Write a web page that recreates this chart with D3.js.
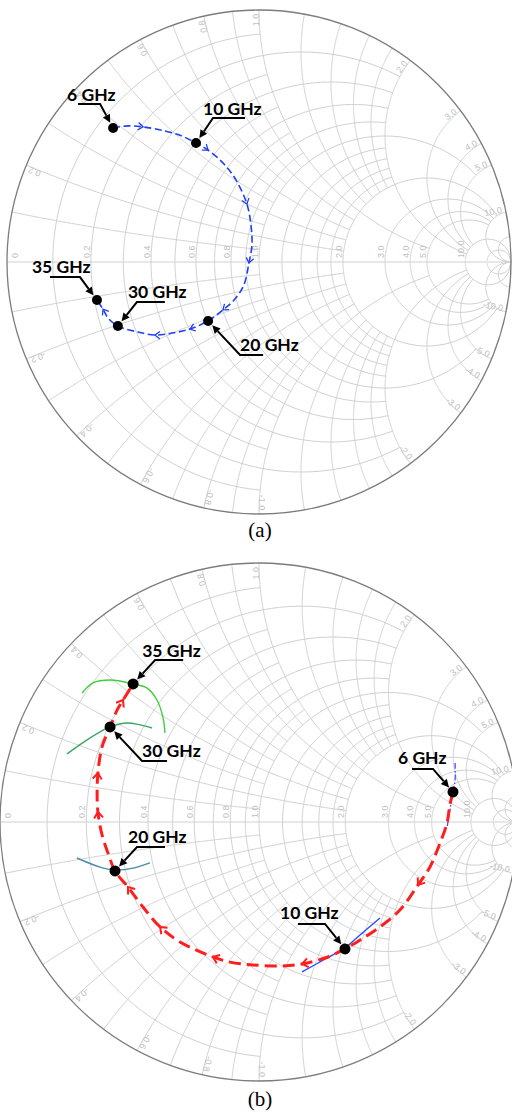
<!DOCTYPE html>
<html>
<head>
<meta charset="utf-8">
<script src="https://cdn.jsdelivr.net/npm/d3@7"></script>
<style>
  html, body { margin: 0; padding: 0; background: #fff; }
  svg { display: block; }
</style>
</head>
<body>
<svg id="chart" width="512" height="1113"></svg>
<script>
// ---- Smith chart grid -------------------------------------------------------
// constant-resistance circles and the |reactance| where each one stops
const resistanceValues = [0.1, 0.2, 0.3, 0.4, 0.5, 0.6, 0.7, 0.8, 0.9, 1.0, 1.2, 1.4, 1.6, 1.8, 2.0, 3.0, 4.0, 5.0, 10.0, 20.0];
const resistanceReach  = [1, 2, 1, 2, 1, 2, 1, 2, 1, 5, 2, 2, 2, 2, 10, 10, 10, 10, Infinity, Infinity];
// constant-reactance arcs and the resistance where each one stops
const reactanceValues  = [0.1, 0.2, 0.3, 0.4, 0.5, 0.6, 0.7, 0.8, 0.9, 1.0, 1.2, 1.4, 1.6, 1.8, 2.0, 3.0, 4.0, 5.0, 10.0, 20.0];
const reactanceReach   = [1, 2, 1, 2, 1, 2, 1, 2, 1, 5, 2, 2, 2, 2, 10, 10, 10, 10, Infinity, Infinity];
// labelled grid values
const axisTicks = [0, 0.2, 0.4, 0.6, 0.8, 1.0, 2.0, 3.0, 4.0, 5.0, 10.0];
const rimTicks  = [0.2, 0.4, 0.6, 0.8, 1.0, 2.0, 3.0, 4.0, 5.0, 10.0];

// ---- (a) reflection coefficient, 6-35 GHz (real, imaginary) ----------------
const traceA_re = [-0.579,-0.520,-0.460,-0.373,-0.306,-0.250,-0.202,-0.139,-0.091,-0.048,-0.032,-0.028,-0.040,-0.060,-0.099,-0.143,-0.202,-0.274,-0.345,-0.413,-0.480,-0.560,-0.599,-0.619,-0.643];
const traceA_im = [ 0.532, 0.540, 0.536, 0.520, 0.500, 0.472, 0.444, 0.389, 0.325, 0.230, 0.147, 0.067,-0.004,-0.091,-0.151,-0.190,-0.234,-0.266,-0.282,-0.290,-0.278,-0.254,-0.222,-0.187,-0.151];
const traceA_arrows = [2, 6, 9, 12, 15, 17, 19, 23];
const markerA_freq  = ["6 GHz", "10 GHz", "20 GHz", "30 GHz", "35 GHz"];
const markerA_index = [0, 5, 16, 21, 24];

// ---- (b) reflection coefficient, 6-35 GHz ----------------------------------
const traceB_re = [0.749,0.737,0.726,0.699,0.660,0.614,0.544,0.467,0.390,0.332,0.255,0.166,0.093,-0.023,-0.112,-0.178,-0.305,-0.382,-0.448,-0.506,-0.556,-0.583,-0.606,-0.622,-0.625,-0.622,-0.606,-0.575,-0.548,-0.525,-0.486];
const traceB_im = [0.116,0.066,-0.004,-0.081,-0.174,-0.243,-0.340,-0.405,-0.456,-0.490,-0.525,-0.548,-0.556,-0.552,-0.541,-0.521,-0.463,-0.405,-0.328,-0.251,-0.189,-0.120,-0.050,0.039,0.112,0.189,0.290,0.367,0.432,0.471,0.533];
const traceB_arrows = [5, 11, 15, 17, 19, 23, 25, 29];
const markerB_freq  = ["6 GHz", "10 GHz", "20 GHz", "30 GHz", "35 GHz"];
const markerB_index = [0, 9, 20, 27, 30];

// short companion curves through the (b) markers
const near6_re  = [0.757, 0.757, 0.749, 0.737, 0.726];
const near6_im  = [0.228, 0.162, 0.116, 0.046, -0.023];
const near10_re = [0.467, 0.390, 0.332, 0.263, 0.166];
const near10_im = [-0.371, -0.436, -0.486, -0.525, -0.579];
const near20_re = [-0.703, -0.614, -0.556, -0.486, -0.421];
const near20_im = [-0.139, -0.174, -0.185, -0.178, -0.158];
const near30_re = [-0.741, -0.664, -0.602, -0.575, -0.510, -0.459, -0.413];
const near30_im = [0.263, 0.317, 0.355, 0.367, 0.382, 0.375, 0.363];
const near35_re = [-0.683, -0.641, -0.575, -0.486, -0.432, -0.394, -0.371, -0.363];
const near35_im = [0.498, 0.537, 0.548, 0.533, 0.517, 0.471, 0.405, 0.344];

// ---- drawing ----------------------------------------------------------------
const svg = d3.select("#chart");
const GRID = "#d0d0d0", LABEL = "#c0c0c0";

function gamma(r, x) {
  const d = (r + 1) * (r + 1) + x * x;
  return [(r * r - 1 + x * x) / d, (2 * x) / d];
}

function makePanel(cx, cy, R) {
  const sx = d3.scaleLinear().domain([-1, 1]).range([cx - R, cx + R]);
  const sy = d3.scaleLinear().domain([-1, 1]).range([cy + R, cy - R]);
  const g = svg.append("g");
  const line = d3.line().x(d => sx(d[0])).y(d => sy(d[1]));
  const grid = g.append("g").attr("fill", "none").attr("stroke", GRID).attr("stroke-width", 1);
  const N = 240;

  // resistance circles
  resistanceValues.forEach((r, i) => {
    const t0 = Math.atan(resistanceReach[i]);
    const pts = d3.range(N + 1).map(k => gamma(r, Math.tan(-t0 + 2 * t0 * k / N)));
    grid.append("path").attr("d", line(pts));
  });
  // reactance arcs, both signs
  reactanceValues.forEach((x, i) => {
    const t1 = Math.atan(reactanceReach[i]);
    [1, -1].forEach(s => {
      const pts = d3.range(N + 1).map(k => gamma(Math.tan(t1 * k / N), s * x));
      grid.append("path").attr("d", line(pts));
    });
  });
  // real axis
  grid.append("path").attr("d", line([[-1, 0], [1, 0]]));
  // outer rim
  g.append("circle").attr("cx", sx(0)).attr("cy", sy(0)).attr("r", sx(1) - sx(0))
    .attr("fill", "none").attr("stroke", "#7c7c7c").attr("stroke-width", 1.3);

  const fmt = v => v === 0 ? "0" : d3.format(".1f")(v);
  const lab = g.append("g").attr("fill", LABEL)
    .attr("font-family", "Liberation Sans, Arial, sans-serif").attr("font-size", 9);
  // resistance labels along the real axis
  axisTicks.forEach(r => {
    const px = r === 0 ? sx(-1) + 11 : sx((r - 1) / (r + 1)) - 1;
    lab.append("text").attr("transform", `translate(${px},${sy(0) - 4}) rotate(-90)`)
      .attr("text-anchor", "start").text(fmt(r));
  });
  // reactance labels round the rim
  rimTicks.forEach(x => {
    [1, -1].forEach(s => {
      const p = gamma(0, s * x);
      const th = Math.atan2(p[1], p[0]);
      const rr = 0.985;
      const px = sx(rr * Math.cos(th)), py = sy(rr * Math.sin(th));
      lab.append("text").attr("transform", `translate(${px},${py}) rotate(${-th * 180 / Math.PI})`)
        .attr("text-anchor", "end").text((s < 0 ? "-" : "") + fmt(x));
    });
  });
  return { g, sx, sy, line };
}

function chevron(P, pts, idx, color, size, width) {
  const a = pts[Math.max(idx - 1, 0)], b = pts[Math.min(idx + 1, pts.length - 1)];
  const ang = Math.atan2(P.sy(b[1]) - P.sy(a[1]), P.sx(b[0]) - P.sx(a[0])) * 180 / Math.PI;
  P.g.append("path")
    .attr("transform", `translate(${P.sx(pts[idx][0])},${P.sy(pts[idx][1])}) rotate(${ang})`)
    .attr("d", `M${-size},${-size * 0.75} L0,0 L${-size},${size * 0.75}`)
    .attr("fill", "none").attr("stroke", color).attr("stroke-width", width)
    .attr("stroke-linejoin", "miter");
}

function callout(P, pt, text, lay) {
  const mx = P.sx(pt[0]), my = P.sy(pt[1]);
  const ex = mx + lay.ex, ey = my + lay.ey;
  const dx = mx - ex, dy = my - ey, L = Math.hypot(dx, dy);
  const ux = dx / L, uy = dy / L;
  const tipX = mx - ux * 6, tipY = my - uy * 6;
  const baseX = tipX - ux * 8, baseY = tipY - uy * 8;
  const c = P.g.append("g");
  c.append("path")
    .attr("d", `M${mx + lay.ux},${ey} L${ex},${ey} L${baseX},${baseY}`)
    .attr("fill", "none").attr("stroke", "#000").attr("stroke-width", 2);
  c.append("path")
    .attr("d", `M${tipX},${tipY} L${baseX - uy * 4},${baseY + ux * 4} L${baseX + uy * 4},${baseY - ux * 4} Z`)
    .attr("fill", "#000");
  c.append("text").attr("x", mx + lay.tx).attr("y", my + lay.ty)
    .attr("font-family", "Lato, Liberation Sans, sans-serif").attr("font-weight", "bold")
    .attr("font-size", 17.5).attr("fill", "#000").text(text);
}

const zip = (re, im) => re.map((v, i) => [v, im[i]]);

// ---------- panel (a) ----------
const A = makePanel(259, 262, 252);
const ptsA = zip(traceA_re, traceA_im);
A.g.append("path").attr("d", A.line.curve(d3.curveCatmullRom)(ptsA))
  .attr("fill", "none").attr("stroke", "#2040f0").attr("stroke-width", 1.6)
  .attr("stroke-dasharray", "7,3.5");
traceA_arrows.forEach(i => chevron(A, ptsA, i, "#2040f0", 5, 1.3));
const layoutA = [
  { ex: -13, ey: -24, ux: -35, tx: -46, ty: -27 },
  { ex: 17, ey: -25, ux: 49, tx: 7, ty: -28 },
  { ex: 32, ey: 34, ux: 55, tx: 32, ty: 30 },
  { ex: 19, ey: -24, ux: 47, tx: 10, ty: -28 },
  { ex: -17, ey: -23, ux: -47, tx: -65, ty: -27 }
];
markerA_index.forEach((idx, k) => {
  A.g.append("circle").attr("cx", A.sx(ptsA[idx][0])).attr("cy", A.sy(ptsA[idx][1]))
    .attr("r", 5).attr("fill", "#000");
  callout(A, ptsA[idx], markerA_freq[k], layoutA[k]);
});

// ---------- panel (b) ----------
const B = makePanel(259, 822, 259);
const lineB = d3.line().x(d => B.sx(d[0])).y(d => B.sy(d[1])).curve(d3.curveCatmullRom);
B.g.append("path").attr("d", lineB(zip(near6_re, near6_im)))
  .attr("fill", "none").attr("stroke", "#3040ff").attr("stroke-width", 1.2).attr("stroke-dasharray", "6,2,1.5,2");
B.g.append("path").attr("d", lineB(zip(near10_re, near10_im)))
  .attr("fill", "none").attr("stroke", "#2a4cff").attr("stroke-width", 1.4);
B.g.append("path").attr("d", lineB(zip(near20_re, near20_im)))
  .attr("fill", "none").attr("stroke", "#4a8aaa").attr("stroke-width", 1.4);
B.g.append("path").attr("d", lineB(zip(near30_re, near30_im)))
  .attr("fill", "none").attr("stroke", "#38a860").attr("stroke-width", 1.4);
B.g.append("path").attr("d", lineB(zip(near35_re, near35_im)))
  .attr("fill", "none").attr("stroke", "#3ccf3c").attr("stroke-width", 1.4);
const ptsB = zip(traceB_re, traceB_im);
B.g.append("path").attr("d", lineB(ptsB))
  .attr("fill", "none").attr("stroke", "#ff1e1e").attr("stroke-width", 3)
  .attr("stroke-dasharray", "12,6");
traceB_arrows.forEach(i => chevron(B, ptsB, i, "#ff1e1e", 6, 2));
const layoutB = [
  { ex: -20, ey: -23, ux: -41, tx: -55, ty: -28 },
  { ex: -20, ey: -25, ux: -47, tx: -65, ty: -30 },
  { ex: 22, ey: -24, ux: 50, tx: 13, ty: -28 },
  { ex: 32, ey: 34, ux: 57, tx: 32, ty: 30 },
  { ex: 22, ey: -24, ux: 50, tx: 9, ty: -27 }
];
markerB_index.forEach((idx, k) => {
  B.g.append("circle").attr("cx", B.sx(ptsB[idx][0])).attr("cy", B.sy(ptsB[idx][1]))
    .attr("r", 5.5).attr("fill", "#000");
  callout(B, ptsB[idx], markerB_freq[k], layoutB[k]);
});

// ---------- sub-figure captions ----------
svg.append("text").attr("x", 260).attr("y", 537).attr("text-anchor", "middle")
  .attr("font-family", "Liberation Serif, Times New Roman, serif").attr("font-size", 21).text("(a)");
svg.append("text").attr("x", 260).attr("y", 1106).attr("text-anchor", "middle")
  .attr("font-family", "Liberation Serif, Times New Roman, serif").attr("font-size", 21).text("(b)");
</script>
</body>
</html>
